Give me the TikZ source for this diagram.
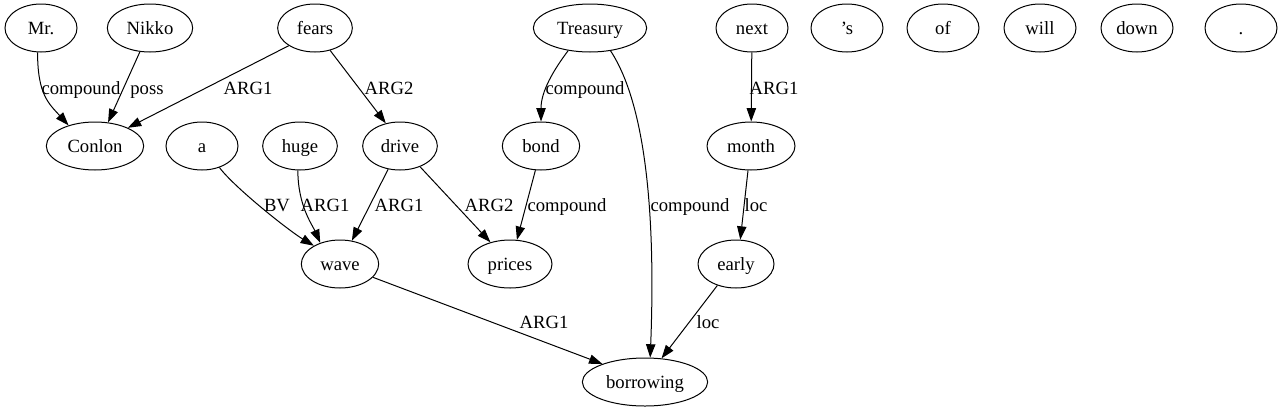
\documentclass[tikz,border=0pt]{standalone}
\usepackage{fontspec}
\setmainfont{Liberation Serif}
\usetikzlibrary{shapes.geometric,arrows.meta}
\begin{document}
\begin{tikzpicture}[x=0.75pt,y=-0.75pt,
  nd/.style={ellipse,draw,line width=0.75pt,minimum height=36pt,minimum width=54pt,inner sep=0pt,text height=10.2pt,text depth=1pt,font=\fontsize{14pt}{16pt}\selectfont},
  e/.style={-{Triangle[length=10pt,width=7pt]},line width=0.75pt},
  lbl/.style={inner sep=0pt,text height=10.2pt,text depth=1pt,font=\fontsize{14pt}{16pt}\selectfont}]
\useasboundingbox (0,0) rectangle (1284,411);
% row 1
\node[nd] (mr) at (41,28) {Mr.};
\node[nd,minimum width=64pt] (nikko) at (150,28) {Nikko};
\node[nd,minimum width=56pt] (fears) at (315,28) {fears};
\node[nd,minimum width=85pt] (treasury) at (590,28) {Treasury};
\node[nd] (next) at (752,28) {next};
\node[nd] (s) at (847,28) {’s};
\node[nd] (of) at (943,28) {of};
\node[nd] (will) at (1040,28) {will};
\node[nd] (down) at (1137,28) {down};
\node[nd] (dot) at (1241,28) {.};
% row 2
\node[nd,minimum width=73pt] (conlon) at (95,146) {Conlon};
\node[nd] (a) at (202,146) {a};
\node[nd,minimum width=56pt] (huge) at (300,146) {huge};
\node[nd,minimum width=56pt] (drive) at (400,146) {drive};
\node[nd,minimum width=58pt] (bond) at (541,146) {bond};
\node[nd,minimum width=66pt] (month) at (751,146) {month};
% row 3
\node[nd,minimum width=58pt] (wave) at (340,264) {wave};
\node[nd,minimum width=63pt] (prices) at (510,264) {prices};
\node[nd,minimum width=57pt] (early) at (736,264) {early};
% row 4
\node[nd,minimum width=94pt] (borrowing) at (645,382) {borrowing};
% edges
\draw[e] (mr.262) .. controls +(0,42) and +(-20,-22) .. (conlon.142);
\draw[e] (nikko.247) -- (conlon.61);
\draw[e] (fears.214) -- (conlon.29);
\draw[e] (fears.304) -- (drive.122);
\draw[e] (treasury.226) .. controls +(-15,20) and +(0,-30) .. (bond.north);
\draw[e] (treasury.312) .. controls +(38,58) and +(5,-128) .. (borrowing.78);
\draw[e] (next) -- (month);
\draw[e] (a.309) .. controls +(15,20) and +(-25,-15) .. (wave.145);
\draw[e] (huge.265) .. controls +(0,35) and +(-8,-18) .. (wave.133);
\draw[e] (drive.243) -- (wave.63);
\draw[e] (drive.314) -- (prices.132);
\draw[e] (bond.257) -- (prices.74);
\draw[e] (month.263) -- (early.80);
\draw[e] (wave.338) -- (borrowing.157);
\draw[e] (early.229) -- (borrowing.55);
% labels
\node[lbl] (l1) at (81,88) {compound};
\node[lbl] (l2) at (147,88) {poss};
\node[lbl] (l3) at (248,88) {ARG1};
\node[lbl] (l4) at (389,88) {ARG2};
\node[lbl] (l5) at (585,88) {compound};
\node[lbl] (l6) at (774,88) {ARG1};
\node[lbl] (l7) at (277,205) {BV};
\node[lbl] (l8) at (325,205) {ARG1};
\node[lbl] (l9) at (399,205) {ARG1};
\node[lbl] (l10) at (489,205) {ARG2};
\node[lbl] (l11) at (567,205) {compound};
\node[lbl] (l12) at (690,205) {compound};
\node[lbl] (l13) at (756,205) {loc};
\node[lbl] (l14) at (544,322) {ARG1};
\node[lbl] (l15) at (708,322) {loc};
\end{tikzpicture}
\end{document}
